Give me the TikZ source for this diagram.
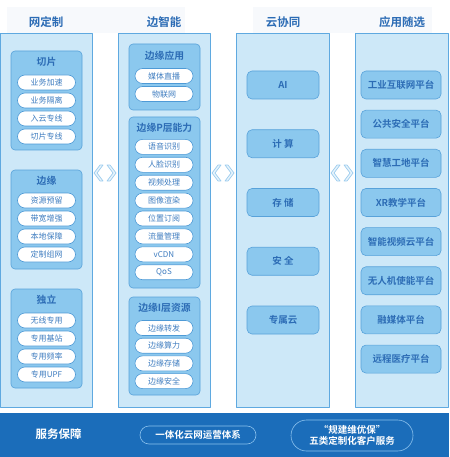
\documentclass[tikz,border=0pt]{standalone}
\usepackage{fontspec}
\setmainfont{Noto Sans CJK SC}[BoldFont={Noto Sans CJK SC Bold}]
\definecolor{panelfill}{HTML}{CDE8F8}
\definecolor{paneldraw}{HTML}{5FA9E0}
\definecolor{groupfill}{HTML}{8BC8EE}
\definecolor{groupdraw}{HTML}{58A2DA}
\definecolor{pilldraw}{HTML}{4E9AD6}
\definecolor{pilltext}{HTML}{3F7DC0}
\definecolor{headtext}{HTML}{2C6CB5}
\definecolor{bandfill}{HTML}{1B6DBA}
\definecolor{banddraw}{HTML}{8CC2EE}
\definecolor{chevfill}{HTML}{E8F4FC}
\definecolor{chevdraw}{HTML}{9ECDEE}
\definecolor{headband}{HTML}{F7F9FC}
\begin{document}
\begin{tikzpicture}[x=1pt, y=-1pt, line join=round, line cap=round,
		head/.style={font=\fontsize{11.5}{12}\selectfont\bfseries, text=headtext},
		panel/.style={draw=paneldraw, fill=panelfill, line width=0.8pt, minimum height=374pt, inner sep=0pt},
		group/.style={draw=groupdraw, fill=groupfill, line width=0.6pt, rounded corners=4pt, minimum width=71pt, inner sep=0pt},
		gtitle/.style={font=\fontsize{9.8}{10}\selectfont\bfseries, text=headtext},
		pill/.style={draw=pilldraw, fill=white, line width=0.6pt, rounded corners=7.5pt, minimum width=58pt, minimum height=15pt, inner sep=0pt, font=\fontsize{8}{8}\selectfont, text=pilltext},
		card/.style={draw=groupdraw, fill=groupfill, line width=0.6pt, rounded corners=5pt, minimum height=28pt, inner sep=0pt, font=\fontsize{9.5}{10}\selectfont\bfseries, text=headtext},
		chev/.style={draw=chevdraw, fill=chevfill, line width=0.7pt},
		bandpill/.style={draw=banddraw, line width=0.6pt, inner sep=0pt, text=white, font=\fontsize{9.5}{11.5}\selectfont\bfseries, align=center}]
	\useasboundingbox (0,0) rectangle (449,457);
	\fill[headband] (7,7) rectangle (185,33);
	\fill[headband] (253,7) rectangle (432,33);
	\node[head] (h1) at (46,22) {网定制};
	\node[head] (h2) at (164,22) {边智能};
	\node[head] (h3) at (283,22) {云协同};
	\node[head] (h4) at (402,22) {应用随选};
	\node[panel, minimum width=92pt] (p1) at (46,220) {};
	\node[panel, minimum width=92pt] (p2) at (164,220) {};
	\node[panel, minimum width=93pt] (p3) at (282.5,220) {};
	\node[panel, minimum width=93pt] (p4) at (401.5,220) {};
	\foreach \g in {92,210,329} {
		\draw[chev] (\g+2,173) -- (\g+8,165) -- (\g+11,165) -- (\g+5,173) -- (\g+11,181) -- (\g+8,181) -- cycle;
		\draw[chev] (\g+24,173) -- (\g+18,165) -- (\g+15,165) -- (\g+21,173) -- (\g+15,181) -- (\g+18,181) -- cycle;
	}
	\node[group, minimum height=99pt] (slice) at (46.5,100.5) {};
	\node[gtitle] (slice-t) at (46.5,62) {切片};
	\foreach \t [count=\i] in {业务加速,业务隔离,入云专线,切片专线}
		\node[pill] (slice\i) at (46.5,64.5+18*\i) {\t};
	\node[group, minimum height=99pt] (edge) at (46.5,219.5) {};
	\node[gtitle] (edge-t) at (46.5,181) {边缘};
	\foreach \t [count=\i] in {资源预留,带宽增强,本地保障,定制组网}
		\node[pill] (edge\i) at (46.5,182.5+18*\i) {\t};
	\node[group, minimum height=99pt] (indep) at (46.5,338.5) {};
	\node[gtitle] (indep-t) at (46.5,300) {独立};
	\foreach \t [count=\i] in {无线专用,专用基站,专用频率,专用UPF}
		\node[pill] (indep\i) at (46.5,302.5+18*\i) {\t};
	\node[group, minimum height=66pt] (app) at (164.5,77) {};
	\node[gtitle] (app-t) at (164.5,56) {边缘应用};
	\foreach \t [count=\i] in {媒体直播,物联网}
		\node[pill] (app\i) at (164,58+18*\i) {\t};
	\node[group, minimum height=171pt] (cap) at (164.5,202.5) {};
	\node[gtitle] (cap-t) at (164.5,127.5) {边缘P层能力};
	\foreach \t [count=\i] in {语音识别,人脸识别,视频处理,图像渲染,位置订阅,流量管理,vCDN,QoS}
		\node[pill] (cap\i) at (164,129+17.9*\i) {\t};
	\node[group, minimum height=98pt] (res) at (164.5,346) {};
	\node[gtitle] (res-t) at (164.5,307.5) {边缘I层资源};
	\foreach \t [count=\i] in {边缘转发,边缘算力,边缘存储,边缘安全}
		\node[pill] (res\i) at (164,310.3+17.7*\i) {\t};
	\foreach \t [count=\i] in {AI,计 算,存 储,安 全,专属云}
		\node[card, minimum width=72pt] (cloud\i) at (283,26.25+58.75*\i) {\t};
	\foreach \t [count=\i] in {工业互联网平台,公共安全平台,智慧工地平台,XR教学平台,智能视频云平台,无人机使能平台,融媒体平台,远程医疗平台}
		\node[card, minimum width=80pt] (plat\i) at (401,45.85+39.15*\i) {\t};
	\node[fill=bandfill, minimum width=449pt, minimum height=44pt, inner sep=0pt] (svc) at (224.5,435) {};
	\node[text=white, font=\fontsize{11.5}{12}\selectfont\bfseries] (svc-t) at (58.5,434.5) {服务保障};
	\node[bandpill, rounded corners=9pt, minimum width=116pt, minimum height=18pt] (ops) at (198,435) {一体化云网运营体系};
	\node[bandpill, rounded corners=15.5pt, minimum width=122pt, minimum height=31pt] (cust) at (352,435.5) {“规建维优保”\\五类定制化客户服务};
\end{tikzpicture}
\end{document}
